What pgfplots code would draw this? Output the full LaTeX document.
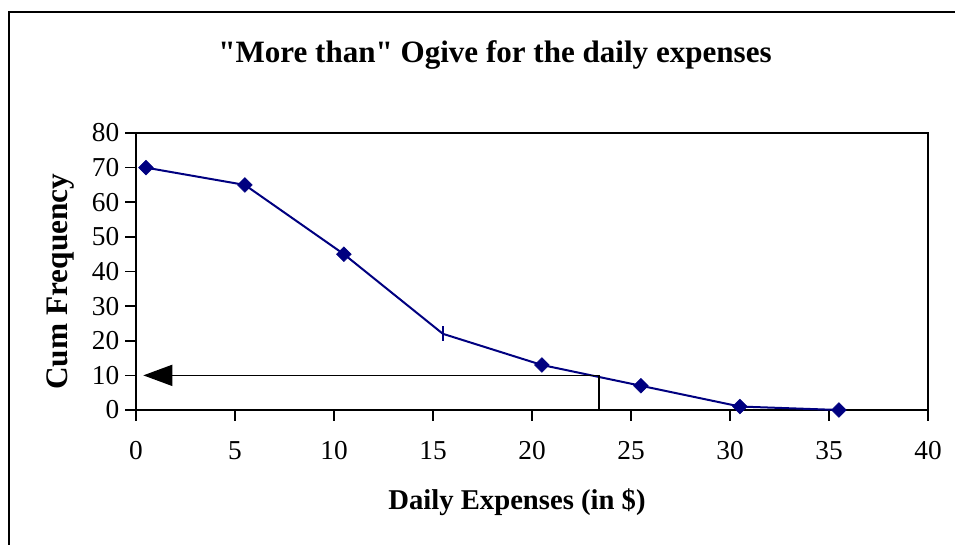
\documentclass[border=0pt]{standalone}
\usepackage{pgfplots}
\pgfplotsset{compat=1.18}
\usetikzlibrary{arrows.meta}
\usepackage{fontspec}
\setmainfont{Liberation Serif}[Ligatures=TeXOff]
\definecolor{navy}{RGB}{0,0,128}
\begin{document}
\begin{tikzpicture}[x=1pt,y=1pt]
\path[use as bounding box] (0,0) rectangle (716.25,408.75);
\draw[line width=1.5pt] (6.75,-5) -- (6.75,399.75) -- (725,399.75);
\node[font=\fontsize{23.3}{28}\selectfont\bfseries] at (371.25,367.5) {"More than" Ogive for the daily expenses};
\node[font=\fontsize{21.5}{26}\selectfont\bfseries] at (387.75,32.25) {Daily Expenses (in \$)};
\node[font=\fontsize{23.5}{28}\selectfont\bfseries, rotate=90] at (45.5,197.5) {Cum Frequency};
\begin{axis}[
  at={(102pt,101.25pt)}, anchor=south west,
  scale only axis, width=594pt, height=207.75pt,
  xmin=0, xmax=40, ymin=0, ymax=80,
  xtick distance=5, ytick distance=10,
  tick pos=left, tick align=outside,
  major tick length=8pt,
  axis line style={line width=1.4pt},
  every tick/.style={black, line width=1.2pt},
  ticklabel style={font=\fontsize{20.5}{24}\selectfont},
  /pgf/number format/assume math mode=true,
  xticklabel style={yshift=-12pt},
  yticklabel style={xshift=-1pt},
  clip=false,
]
\addplot[navy, line width=1.5pt] coordinates {
 (0.5,70) (5.5,65) (10.5,45) (15.5,22) (20.5,13) (25.5,7) (30.5,1) (35.5,0)};
\addplot[only marks, mark=square*, mark size=3.9pt, navy,
  mark options={rotate=45, fill=navy, draw=navy}] coordinates {
 (0.5,70) (5.5,65) (10.5,45) (20.5,13) (25.5,7) (30.5,1) (35.5,0)};
\addplot[only marks, mark=|, mark size=5.5pt, navy, mark options={line width=1.6pt}] coordinates {(15.5,22)};
\addplot[black, line width=1.3pt, -{Triangle[length=21.75pt,width=15.75pt]}] coordinates {(23.4,10) (0.37,10)};
\addplot[black, line width=1.3pt] coordinates {(23.4,0) (23.4,10)};
\end{axis}
\end{tikzpicture}
\end{document}
